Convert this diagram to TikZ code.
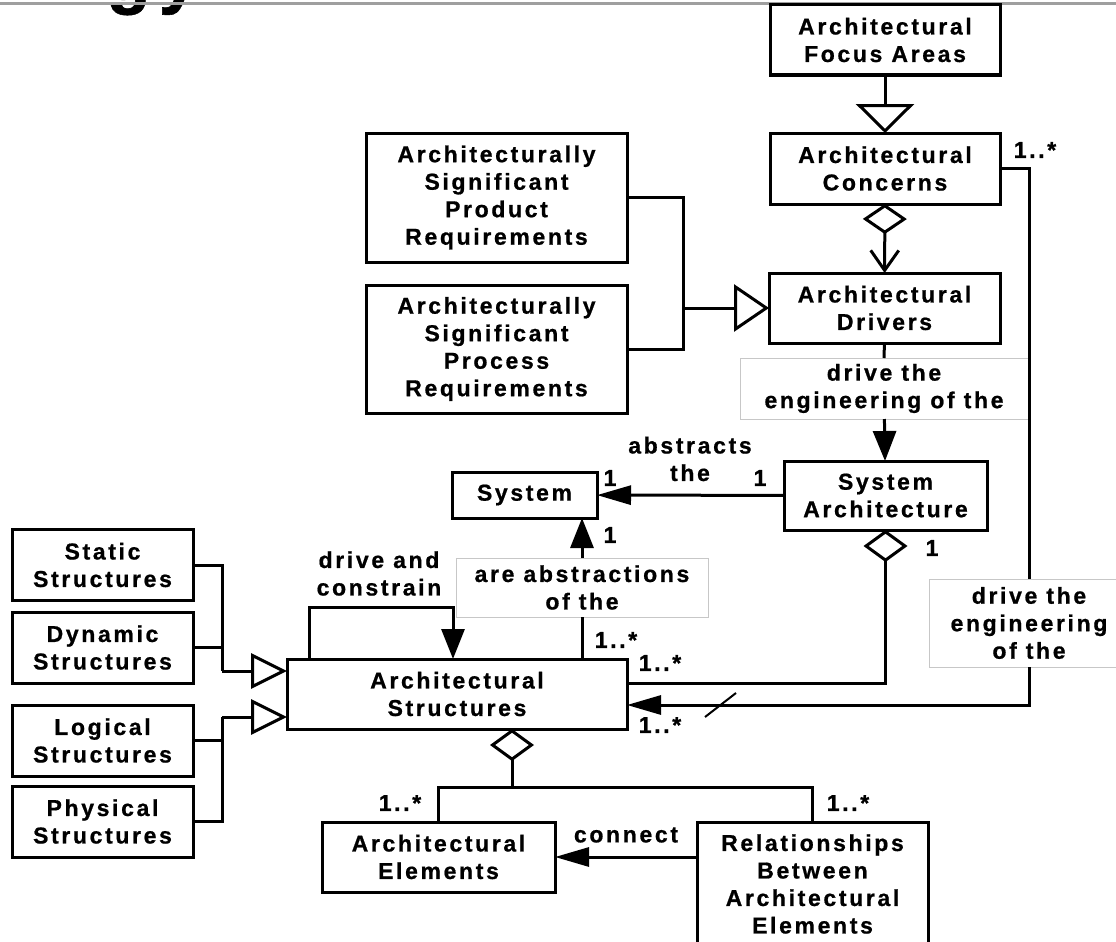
\documentclass[tikz,border=0pt]{standalone}
\usepackage{fontspec}
\setmainfont{Liberation Sans}[LetterSpace=11.5,BoldFeatures={FakeBold=0.8}]
\usetikzlibrary{arrows.meta,positioning}

\begin{document}
\begin{tikzpicture}[x=1pt,y=-1pt,line width=3pt,
    font=\bfseries\fontsize{23}{27.5}\selectfont,
    blk/.style={draw,fill=white,align=center,inner sep=0pt,outer sep=0pt},
    tag/.style={draw=black!22,line width=1pt,fill=white,align=center,inner sep=0pt,outer sep=0pt},
    lbl/.style={align=center,inner sep=0pt},
    arrv/.style={-{Triangle[length=30pt,width=23pt]}},
    arrh/.style={-{Triangle[length=34pt,width=19pt]}},
    gen/.style 2 args={-{Triangle[open,length=#1,width=#2]}},
    agg/.style={{Diamond[open,length=32pt,width=44pt]}-}]
  \useasboundingbox (0,0) rectangle (1116,942);
  \fill[white] (0,0) rectangle (1116,942);
  \clip (0,0) rectangle (1116,942);

  % cut-off title and rule at the top
  \node[anchor=base west,inner sep=0pt,font=\bfseries\fontsize{72}{72}\selectfont] (ttl) at (105,0) {gy};
  \draw[gray!75] (0,3.5) -- (1116,3.5);

  % right column
  \node[blk,minimum width=230pt,minimum height=70pt] (focus) at (885,40) {Architectural\\Focus Areas};
  \node[blk,minimum width=230pt,minimum height=71pt] (concerns) at (885,168.5) {Architectural\\Concerns};
  \node[blk,minimum width=231pt,minimum height=70pt] (drivers) at (884.5,308) {Architectural\\Drivers};
  \node[blk,minimum width=203pt,minimum height=69pt] (sysarch) at (885.5,495.5) {System\\Architecture};

  % requirements
  \node[blk,minimum width=261pt,minimum height=129pt] (prodreq) at (496.5,197.5) {Architecturally\\Significant\\Product\\Requirements};
  \node[blk,minimum width=261pt,minimum height=128pt] (procreq) at (496.5,349) {Architecturally\\Significant\\Process\\Requirements};

  \node[blk,minimum width=145pt,minimum height=46pt] (system) at (524.5,495) {System};
  \node[blk,minimum width=340pt,minimum height=70pt] (archstruct) at (457,694) {Architectural\\Structures};

  % kinds of structures
  \node[blk,minimum width=181pt,minimum height=71pt] (static) at (102.5,565) {Static\\Structures};
  \node[blk,minimum width=181pt,minimum height=71pt] (dynamic) [below=11.5pt of static] {Dynamic\\Structures};
  \node[blk,minimum width=181pt,minimum height=71pt] (logical) [below=22pt of dynamic] {Logical\\Structures};
  \node[blk,minimum width=181pt,minimum height=71pt] (physical) [below=10pt of logical] {Physical\\Structures};

  % parts
  \node[blk,minimum width=233pt,minimum height=70pt] (elements) at (438.5,857) {Architectural\\Elements};
  \node[blk,minimum width=231pt,minimum height=124pt,anchor=north] (relation) at (812.5,822) {Relationships\\Between\\Architectural\\Elements};

  % labels
  \node[tag,minimum width=288pt,minimum height=61pt] (drvlbl) at (884,388.5) {drive the\\engineering of the};
  \node[tag,minimum width=252pt,minimum height=59pt] (abslbl) at (582,587.5) {are abstractions\\of the};
  \node[tag,minimum width=200pt,minimum height=88pt] (englbl) at (1029,623) {drive the\\engineering\\of the};
  \node[lbl] (abstr) at (690,459) {abstracts\\the};
  \node[lbl] (dac) at (379,573.5) {drive and\\constrain};
  \node[lbl] (conn) at (626,835) {connect};

  \node[lbl] (m1) at (1035,150) {1..*};
  \node[lbl] (m2) at (610,478) {1};
  \node[lbl] (m3) at (760,478) {1};
  \node[lbl] (m4) at (610,535) {1};
  \node[lbl] (m5) at (932,548) {1};
  \node[lbl] (m6) at (616,640) {1..*};
  \node[lbl] (m7) at (660,663) {1..*};
  \node[lbl] (m8) at (660,725) {1..*};
  \node[lbl] (m9) at (400,803) {1..*};
  \node[lbl] (m10) at (848,803) {1..*};

  \coordinate (jreq) at (683,308);
  \coordinate (jsa) at (885.5,683);
  \coordinate (jcr) at (1029,705);
  \coordinate (lpa) at (309,607);
  \coordinate (lpb) at (453,607);
  \coordinate (jsd) at (222,671);
  \coordinate (jlp) at (222,717);
  \coordinate (jagg) at (512,787);

  % connectors
  \draw[gen={29pt}{58pt}] (focus) -- (concerns);
  \draw[{Diamond[open,length=30pt,width=44pt]}-{Straight Barb[length=20pt,width=28pt]}] (concerns) -- (drivers);
  \draw (prodreq.east) -| (jreq) |- (procreq.east);
  \draw[gen={35pt}{47pt}] (jreq) -- (drivers.west);
  \draw (drivers) -- (drvlbl);
  \draw[arrv] (drvlbl) -- (sysarch);
  \draw[arrh] (sysarch) -- (system);
  \draw (archstruct.north -| abslbl) -- (abslbl);
  \draw[arrv] (abslbl) -- (abslbl |- system.south);
  \draw[arrv] (lpa |- archstruct.north) -- (lpa) -- (lpb) -- (lpb |- archstruct.north);
  \draw[agg] (sysarch.south) -- (jsa) -- (jsa -| archstruct.east);
  \draw (concerns.east) -| (englbl);
  \draw[arrh] (englbl) |- (archstruct.east |- jcr);
  \draw[line width=2pt] (705,717) -- (736,693);

  \draw (static.east) -| (jsd);
  \draw (dynamic.east) -| (jsd);
  \draw[gen={36pt}{35pt}] (jsd) -- (jsd -| archstruct.west);
  \draw (logical.east) -| (jlp);
  \draw (physical.east) -| (jlp);
  \draw[gen={36pt}{35pt}] (jlp) -- (jlp -| archstruct.west);

  \draw[agg] (archstruct.south -| jagg) -- (jagg);
  \draw (elements.north) |- (jagg) -| (relation.north);
  \draw[arrh] (relation.west |- elements) -- (elements);
\end{tikzpicture}
\end{document}
